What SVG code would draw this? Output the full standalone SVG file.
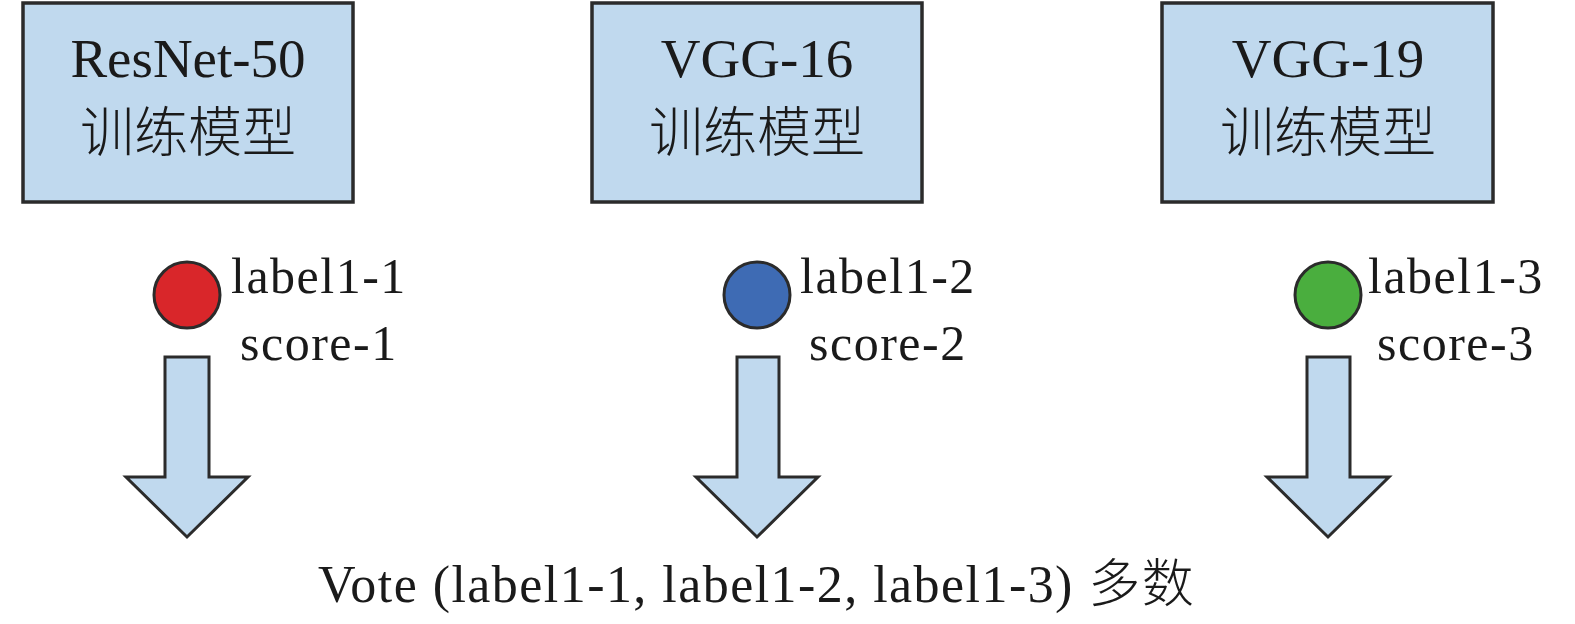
<svg xmlns="http://www.w3.org/2000/svg" width="1575" height="624" viewBox="0 0 1575 624">
<style>
.box{fill:#c0d9ee;stroke:#2b2b2b;stroke-width:3.5}
.arrow{fill:#c0d9ee;stroke:#2b2b2b;stroke-width:3;stroke-linejoin:miter}
.dot{stroke:#2b2b2b;stroke-width:3}
.t{font-family:"Liberation Serif","Noto Sans CJK SC",serif;fill:#1a1a1a}
.title{font-size:55px;text-anchor:middle}
.cjk{font-family:"Noto Sans CJK SC",sans-serif;font-size:54px;text-anchor:middle;fill:#1a1a1a;font-weight:300}
.lab{font-size:50px;letter-spacing:1.5px}
</style>
<rect width="1575" height="624" fill="#ffffff"/>
<g id="node-resnet50">
<rect class="box" x="23" y="3" width="330" height="199"/>
<text class="t title" x="188" y="77">ResNet-50</text>
<text class="cjk" x="188" y="152">训练模型</text>
</g>
<g id="node-vgg16">
<rect class="box" x="592" y="3" width="330" height="199"/>
<text class="t title" x="757" y="77">VGG-16</text>
<text class="cjk" x="757" y="152">训练模型</text>
</g>
<g id="node-vgg19">
<rect class="box" x="1162" y="3" width="331" height="199"/>
<text class="t title" x="1328" y="77">VGG-19</text>
<text class="cjk" x="1328" y="152">训练模型</text>
</g>
<g id="result-1">
<circle class="dot" cx="187" cy="295" r="33" fill="#d9262a"/>
<text class="t lab" x="231" y="293">label1-1</text>
<text class="t lab" x="240" y="360">score-1</text>
</g>
<g id="result-2">
<circle class="dot" cx="757" cy="295" r="33" fill="#3e6bb4"/>
<text class="t lab" x="800" y="293">label1-2</text>
<text class="t lab" x="809" y="360">score-2</text>
</g>
<g id="result-3">
<circle class="dot" cx="1328" cy="295" r="33" fill="#4aae3e"/>
<text class="t lab" x="1368" y="293">label1-3</text>
<text class="t lab" x="1377" y="360">score-3</text>
</g>
<g id="connectors">
<polygon class="arrow" points="165,357 209,357 209,477 248,477 187,537 126,477 165,477"/>
<polygon class="arrow" points="737,357 779,357 779,477 818,477 757,537 696,477 737,477"/>
<polygon class="arrow" points="1307,357 1350,357 1350,477 1389,477 1328,537 1267,477 1307,477"/>
</g>
<g id="vote">
<text class="t" x="318" y="602" font-size="52" letter-spacing="1.45">Vote (label1-1, label1-2, label1-3) <tspan font-family="Noto Sans CJK SC,sans-serif" font-weight="300">多数</tspan></text>
</g>
</svg>
